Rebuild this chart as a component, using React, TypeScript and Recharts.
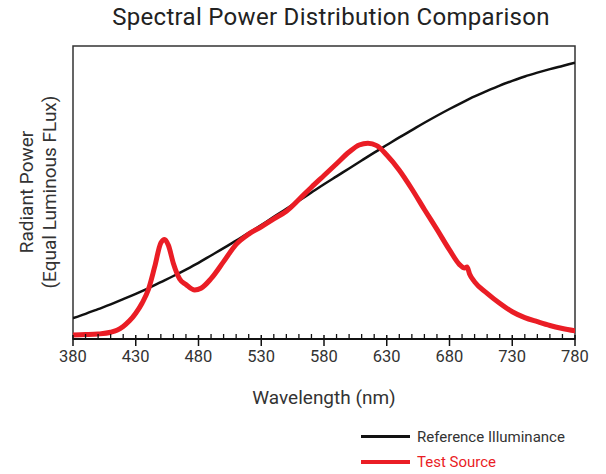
import { LineChart, Line, XAxis, YAxis, ReferenceArea, Legend } from 'recharts';

// black curve, read every 10 nm
const referenceWavelengths = [
  380, 390, 400, 410, 420, 430, 440, 450, 460, 470, 480, 490, 500, 510, 520, 530, 540, 550, 560, 570,
  580, 590, 600, 610, 620, 630, 640, 650, 660, 670, 680, 690, 700, 710, 720, 730, 740, 750, 760, 770, 780,
];
const referenceValues = [
  7.1, 8.6, 10.2, 11.8, 13.6, 15.4, 17.3, 19.4, 21.5, 23.7, 26.0, 28.5, 31.0, 33.6, 36.2, 38.9, 41.7, 44.4, 47.2, 50.0,
  52.8, 55.5, 58.2, 60.9, 63.6, 66.2, 68.8, 71.3, 73.8, 76.2, 78.5, 80.7, 82.8, 84.7, 86.5, 88.1, 89.6, 90.9, 92.1, 93.2, 94.3,
];

// red curve, denser around the peaks
const testWavelengths = [
  380, 390, 400, 410, 415, 420, 425, 430, 435, 440, 445, 450, 453, 456, 460, 465, 470, 477, 482, 490,
  500, 510, 520, 530, 540, 550, 560, 570, 580, 590, 600, 608, 615, 622, 630, 640, 650, 660, 670, 680,
  688, 692, 694, 696, 700, 710, 720, 730, 740, 750, 760, 770, 780,
];
const testValues = [
  1.4, 1.5, 1.7, 2.3, 3.0, 4.3, 6.2, 8.8, 12.2, 16.8, 24.5, 32.8, 34.0, 32.0, 25.8, 20.5, 18.6, 16.7, 17.3, 20.6,
  26.4, 32.3, 35.8, 38.3, 41.0, 43.6, 47.6, 51.8, 55.8, 59.8, 63.8, 66.2, 66.8, 66.0, 62.8, 57.6, 51.2, 44.2, 37.4, 30.4,
  25.4, 24.2, 24.6, 22.2, 19.5, 15.6, 12.2, 9.3, 7.3, 5.9, 4.6, 3.6, 2.8,
];

const majorTicks = [380, 430, 480, 530, 580, 630, 680, 730, 780];
const allTicks = referenceWavelengths;

const referenceData = referenceWavelengths.map((w, i) => ({ wavelength: w, value: referenceValues[i] }));
const testData = testWavelengths.map((w, i) => ({ wavelength: w, value: testValues[i] }));

const FONT = 'Roboto, "Noto Sans", sans-serif';
const RED = '#ea1d25';

function WaveTick(props: any) {
  const { x, y, payload } = props;
  const major = majorTicks.includes(payload.value);
  if (!major) {
    return <line x1={x} x2={x} y1={y - 5} y2={y} stroke="#111" strokeWidth={1.3} />;
  }
  return (
    <g>
      <line x1={x} x2={x} y1={y - 4} y2={y + 7} stroke="#111" strokeWidth={1.5} />
      <text x={x} y={y + 23} textAnchor="middle" fontFamily={FONT} fontSize={16.5} fill="#333">
        {payload.value}
      </text>
    </g>
  );
}

function LegendContent() {
  const row = { display: 'flex', alignItems: 'center', height: 25 } as const;
  return (
    <div style={{ fontFamily: FONT, fontSize: 15 }}>
      <div style={row}>
        <span style={{ display: 'inline-block', width: 49, height: 2.5, background: '#111', marginRight: 7 }} />
        <span style={{ color: '#333' }}>Reference Illuminance</span>
      </div>
      <div style={row}>
        <span style={{ display: 'inline-block', width: 49, height: 4, background: RED, marginRight: 7 }} />
        <span style={{ color: RED }}>Test Source</span>
      </div>
    </div>
  );
}

export default function App() {
  return (
    <div style={{ position: 'absolute', left: 0, top: 0, width: 606, height: 474, background: '#fff' }}>
      <div
        style={{
          position: 'absolute', left: 0, width: 662, top: 3, textAlign: 'center',
          fontFamily: FONT, fontSize: 24, letterSpacing: 0.3, color: '#222',
        }}
      >
        Spectral Power Distribution Comparison
      </div>
      <div
        style={{
          position: 'absolute', left: 38, top: 192, transform: 'translate(-50%, -50%) rotate(-90deg)',
          whiteSpace: 'nowrap', textAlign: 'center', fontFamily: FONT, fontSize: 19, lineHeight: '23px', color: '#333',
        }}
      >
        Radiant Power
        <br />
        (Equal Luminous FLux)
      </div>
      <div
        style={{
          position: 'absolute', left: 0, width: 648, top: 386, textAlign: 'center',
          fontFamily: FONT, fontSize: 19, color: '#333',
        }}
      >
        Wavelength (nm)
      </div>
      <LineChart width={606} height={474} margin={{ top: 46, right: 31, left: 73, bottom: 75 }}>
        <XAxis
          dataKey="wavelength"
          type="number"
          domain={[380, 780]}
          ticks={allTicks}
          interval={0}
          allowDataOverflow
          height={60}
          tickSize={0}
          tickMargin={0}
          tickLine={false}
          tick={<WaveTick />}
          axisLine={{ stroke: '#111', strokeWidth: 2 }}
        />
        <YAxis hide type="number" domain={[0, 100]} allowDataOverflow />
        <ReferenceArea x1={380} x2={780} y1={0} y2={100} fill="none" stroke="#333" strokeWidth={1.5} />
        <Line
          data={referenceData}
          dataKey="value"
          name="Reference Illuminance"
          type="monotone"
          stroke="#111"
          strokeWidth={2.5}
          dot={false}
          isAnimationActive={false}
        />
        <Line
          data={testData}
          dataKey="value"
          name="Test Source"
          type="monotone"
          stroke={RED}
          strokeWidth={5}
          strokeLinecap="round"
          strokeLinejoin="round"
          dot={false}
          isAnimationActive={false}
        />
        <Legend
          layout="vertical"
          align="center"
          verticalAlign="middle"
          content={<LegendContent />}
          wrapperStyle={{ left: 361, top: 424, width: 240 }}
        />
      </LineChart>
    </div>
  );
}
